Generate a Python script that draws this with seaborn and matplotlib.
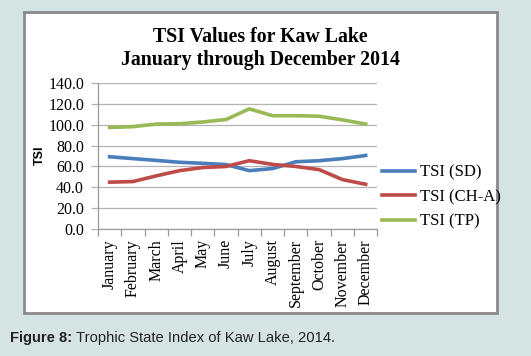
import matplotlib
matplotlib.use("Agg")
import matplotlib.pyplot as plt
import seaborn as sns
import pandas as pd
from matplotlib.patches import Rectangle
from matplotlib.lines import Line2D
from matplotlib.ticker import FixedLocator, NullFormatter

months = ["January", "February", "March", "April", "May", "June", "July",
          "August", "September", "October", "November", "December"]
tsi_sd = [69.3, 67.5, 65.8, 64.0, 63.0, 61.8, 56.0, 58.0, 64.5, 65.5, 67.5, 70.5]
tsi_cha = [45.0, 45.6, 51.0, 56.0, 59.0, 60.0, 65.5, 62.0, 60.0, 57.0, 47.5, 43.0]
tsi_tp = [97.3, 98.0, 100.5, 100.8, 102.5, 104.8, 115.0, 108.5, 108.5, 108.0, 104.5, 100.5]
series_names = ["TSI (SD)", "TSI (CH-A)", "TSI (TP)"]
colors = ["#4a7ebb", "#be4b48", "#98b954"]

df = pd.DataFrame({
    "x": list(range(12)) * 3,
    "value": tsi_sd + tsi_cha + tsi_tp,
    "series": [series_names[0]] * 12 + [series_names[1]] * 12 + [series_names[2]] * 12,
})

bg = "#d5e3e3"
fig = plt.figure(figsize=(5.31, 3.56), dpi=100, facecolor=bg)
W, H = 531, 356
fig.patches.append(Rectangle((24 / W, 1 - 313 / H), (497 - 24) / W, (313 - 12) / H,
                             transform=fig.transFigure, facecolor="white",
                             edgecolor="#8a8a8a", linewidth=2.0, zorder=-5))

ax = fig.add_axes([98 / W, 1 - 229.3 / H, (377.3 - 98) / W, (229.3 - 82.7) / H])
ax.set_zorder(2)
ax.set_facecolor("none")
sns.lineplot(data=df, x="x", y="value", hue="series", palette=colors,
             linewidth=2.6, ax=ax, legend=False, zorder=3)

serif = ["Liberation Serif", "DejaVu Serif"]
tfs = 11.5
ax.set_xlim(-0.5, 11.5)
ax.set_ylim(0, 140)
yt = [0, 20, 40, 60, 80, 100, 120, 140]
ax.set_yticks(yt)
ax.set_yticklabels([f"{v:.1f}" for v in yt], fontfamily=serif, fontsize=tfs)
ax.yaxis.grid(True, color="#b3b3b3", linewidth=0.9, zorder=0)
ax.set_axisbelow(True)
ax.xaxis.set_major_locator(FixedLocator([i - 0.5 for i in range(13)]))
ax.xaxis.set_major_formatter(NullFormatter())
ax.xaxis.set_minor_locator(FixedLocator(list(range(12))))
ax.set_xticklabels(months, minor=True, rotation=90, fontfamily=serif, fontsize=tfs,
                   ha="center", va="top")
ax.tick_params(axis="x", which="major", length=5, color="#999999", width=0.9)
ax.tick_params(axis="x", which="minor", length=0, pad=7)
ax.tick_params(axis="y", length=5, color="#b3b3b3", width=0.9, pad=5)
for s in ["top", "right"]:
    ax.spines[s].set_visible(False)
for s in ["left", "bottom"]:
    ax.spines[s].set_color("#999999")
    ax.spines[s].set_linewidth(0.9)
ax.set_xlabel("")
ax.set_ylabel("")

fig.text(260 / W, 1 - 37 / H, "TSI Values for Kaw Lake", ha="center", va="center",
         fontfamily=serif, fontweight="bold", fontsize=14.3)
fig.text(260 / W, 1 - 60 / H, "January through December 2014", ha="center", va="center",
         fontfamily=serif, fontweight="bold", fontsize=14.3)
fig.text(40 / W, 1 - 155 / H, "TSI", rotation=90, ha="center", va="center",
         fontfamily=["Liberation Sans", "DejaVu Sans"], fontweight="bold", fontsize=9)

handles = [Line2D([0], [0], color=c, linewidth=2.6) for c in colors]
fig.legend(handles, series_names, loc="center left", bbox_to_anchor=(382 / W, 1 - 197 / H),
           frameon=False, prop={"family": serif, "size": 12}, handlelength=2.0,
           handletextpad=0.25, labelspacing=0.5, borderpad=0, borderaxespad=0)

sans = ["Liberation Sans", "DejaVu Sans"]
t1 = fig.text(10 / W, 1 - 338 / H, "Figure 8:", ha="left", va="center",
              fontfamily=sans, fontweight="bold", fontsize=10.6, color="#222222")
fig.canvas.draw()
bb = t1.get_window_extent()
fig.text((bb.x1 + 4) / W, 1 - 338 / H, "Trophic State Index of Kaw Lake, 2014.",
         ha="left", va="center", fontfamily=sans, fontsize=10.6, color="#222222")

fig.savefig("out.png", dpi=100, facecolor=bg)
